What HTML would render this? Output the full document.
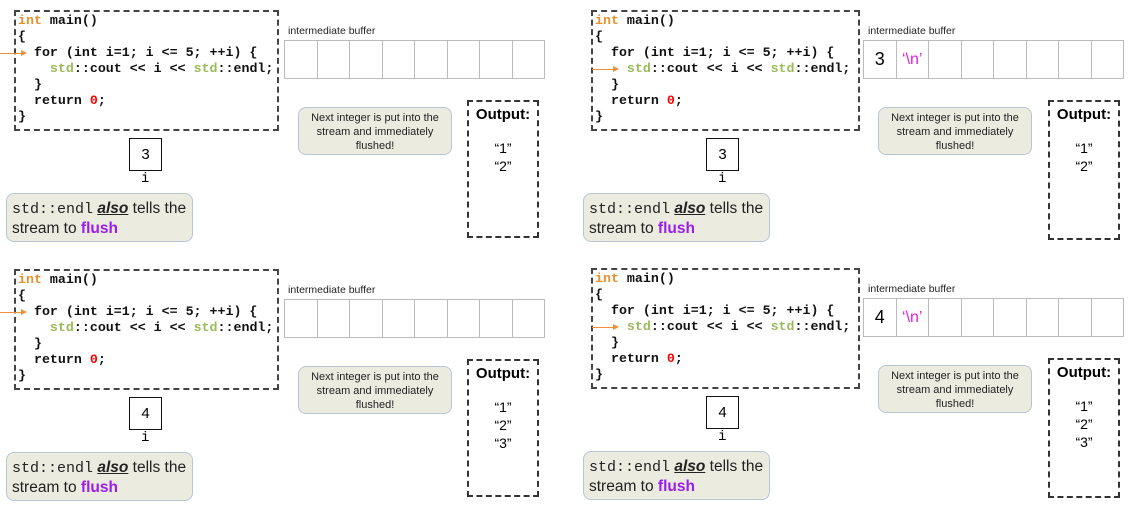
<!DOCTYPE html>
<html><head><meta charset="utf-8"><style>
body{margin:0;width:1134px;height:514px;background:#fff;position:relative;overflow:hidden;font-family:"Liberation Sans",sans-serif}
.p{position:absolute;width:560px;height:255px}
.code{position:absolute;left:14px;top:10px;width:261px;height:117px;border:2px dashed #444;}
.code pre{margin:0;position:absolute;left:2px;top:1px;font:bold 13.3px/16px "Liberation Mono",monospace;color:#111}
.o{color:#e8902e}.g{color:#9bbb59}.r{color:#f00}
.arr{position:absolute;height:0;border-top:1.3px solid #f0913a;width:22px}
.arr:after{content:"";position:absolute;right:-5px;top:-4px;border-left:6px solid #f0913a;border-top:3px solid transparent;border-bottom:3px solid transparent}
.bl{position:absolute;left:288px;top:25px;font-size:10.5px;color:#222}
.buf{position:absolute;left:284px;top:40px;display:flex;border:1.5px solid #bbb}
.buf div{width:31.5px;height:37px;border-left:1.5px solid #bbb;font-size:18px;display:flex;align-items:center;justify-content:center}
.buf div:first-child{border-left:none}
.n1{position:absolute;left:298px;top:107px;width:154px;height:48px;background:#ecebe0;border:1px solid #b8c6d4;border-radius:8px;font-size:11px;line-height:14px;text-align:center;color:#222;box-sizing:border-box;padding-top:3px}
.out{position:absolute;left:467px;top:100px;width:68px;height:134px;border:2px dashed #333;text-align:center}
.out b{display:block;font-size:15px;margin-top:4px}
.out div{font-size:14px;line-height:18px}
.ib{position:absolute;left:129px;top:138px;width:31px;height:31px;border:1.5px solid #111;font-size:15px;display:flex;align-items:center;justify-content:center}
.iv{position:absolute;left:141px;top:171px;font:14px "Liberation Mono",monospace}
.n2{position:absolute;left:6px;top:193px;width:187px;height:49px;background:#ecebe0;border:1px solid #b8c6d4;border-radius:8px;font-size:15.5px;line-height:19px;padding:5px 0 0 5px;box-sizing:border-box;color:#222}
.n2 code{font-family:"Liberation Mono",monospace;font-size:15px}
.n2 i{font-weight:bold;text-decoration:underline}
.n2 .f{color:#9a1cf0;font-weight:bold}
</style></head><body>

<div class="p" style="left:0;top:0">
<div class="code"><pre><span class="o">int</span> main()
{
  for (int i=1; i &lt;= 5; ++i) {
    <span class="g">std</span>::cout &lt;&lt; i &lt;&lt; <span class="g">std</span>::endl;
  }
  return <span class="r">0</span>;
}</pre></div>
<div class="arr" style="left:0;top:53px"></div>
<div class="bl">intermediate buffer</div>
<div class="buf"><div></div><div></div><div></div><div></div><div></div><div></div><div></div><div></div></div>
<div class="n1">Next integer is put into the stream and immediately flushed!</div>
<div class="out"><b>Output:</b><div style="margin-top:16px">“1”</div><div>“2”</div></div>
<div class="ib">3</div><div class="iv">i</div>
<div class="n2"><code>std::endl</code> <i>also</i> tells the stream to <span class="f">flush</span></div>
</div>

<div class="p" style="left:577px;top:0">
<div class="code" style="width:265px"><pre><span class="o">int</span> main()
{
  for (int i=1; i &lt;= 5; ++i) {
    <span class="g">std</span>::cout &lt;&lt; i &lt;&lt; <span class="g">std</span>::endl;
  }
  return <span class="r">0</span>;
}</pre></div>
<div class="arr" style="left:15px;top:69px"></div>
<div class="bl" style="left:291px">intermediate buffer</div>
<div class="buf" style="left:286px"><div>3</div><div style="color:#e020e0;font-size:16px">‘\n’</div><div></div><div></div><div></div><div></div><div></div><div></div></div>
<div class="n1" style="left:301px">Next integer is put into the stream and immediately flushed!</div>
<div class="out" style="left:471px;height:136px"><b>Output:</b><div style="margin-top:16px">“1”</div><div>“2”</div></div>
<div class="ib">3</div><div class="iv">i</div>
<div class="n2"><code>std::endl</code> <i>also</i> tells the stream to <span class="f">flush</span></div>
</div>

<div class="p" style="left:0;top:259px">
<div class="code"><pre><span class="o">int</span> main()
{
  for (int i=1; i &lt;= 5; ++i) {
    <span class="g">std</span>::cout &lt;&lt; i &lt;&lt; <span class="g">std</span>::endl;
  }
  return <span class="r">0</span>;
}</pre></div>
<div class="arr" style="left:0;top:53px"></div>
<div class="bl">intermediate buffer</div>
<div class="buf"><div></div><div></div><div></div><div></div><div></div><div></div><div></div><div></div></div>
<div class="n1">Next integer is put into the stream and immediately flushed!</div>
<div class="out"><b>Output:</b><div style="margin-top:16px">“1”</div><div>“2”</div><div>“3”</div></div>
<div class="ib">4</div><div class="iv">i</div>
<div class="n2"><code>std::endl</code> <i>also</i> tells the stream to <span class="f">flush</span></div>
</div>

<div class="p" style="left:577px;top:258px">
<div class="code" style="width:265px"><pre><span class="o">int</span> main()
{
  for (int i=1; i &lt;= 5; ++i) {
    <span class="g">std</span>::cout &lt;&lt; i &lt;&lt; <span class="g">std</span>::endl;
  }
  return <span class="r">0</span>;
}</pre></div>
<div class="arr" style="left:15px;top:69px"></div>
<div class="bl" style="left:291px">intermediate buffer</div>
<div class="buf" style="left:286px"><div>4</div><div style="color:#e020e0;font-size:16px">‘\n’</div><div></div><div></div><div></div><div></div><div></div><div></div></div>
<div class="n1" style="left:301px">Next integer is put into the stream and immediately flushed!</div>
<div class="out" style="left:471px;height:136px"><b>Output:</b><div style="margin-top:16px">“1”</div><div>“2”</div><div>“3”</div></div>
<div class="ib">4</div><div class="iv">i</div>
<div class="n2"><code>std::endl</code> <i>also</i> tells the stream to <span class="f">flush</span></div>
</div>

</body></html>
